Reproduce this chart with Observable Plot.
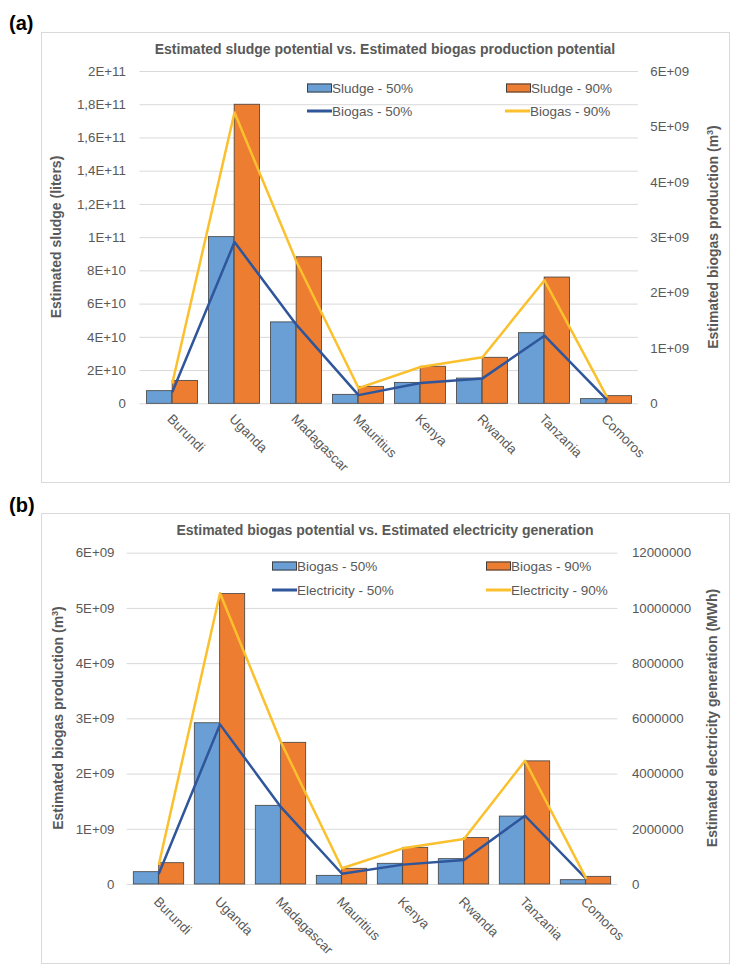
<!DOCTYPE html>
<html><head><meta charset="utf-8">
<script src="https://cdn.jsdelivr.net/npm/d3@7"></script>
<script src="https://cdn.jsdelivr.net/npm/@observablehq/plot@0.6"></script>
<style>
body{margin:0;background:#fff;font-family:"Liberation Sans",Arial,sans-serif;}
#root{position:relative;width:731px;height:968px;overflow:hidden;background:#fff;}
.box{position:absolute;border:1px solid #d9d9d9;box-sizing:border-box;}
.plabel{position:absolute;font-weight:bold;font-size:20px;color:#000;transform:translateY(-50%);}
.title{position:absolute;font-weight:bold;font-size:14px;color:#595959;transform:translate(-50%,-50%);white-space:nowrap;}
.ytitle{position:absolute;font-weight:bold;font-size:14px;color:#595959;transform:translate(-50%,-50%) rotate(-90deg);white-space:nowrap;}
.leg{position:absolute;font-size:13.5px;color:#595959;white-space:nowrap;transform:translateY(-50%);display:flex;align-items:center;}
.sw{display:inline-block;width:25px;height:9px;border:1px solid #404040;box-sizing:border-box;margin-right:0px;}
.ln{display:inline-block;width:25px;height:3px;margin-right:0px;}
.pl{position:absolute;left:0;}
</style>
</head><body><div id="root"></div>
<script>
const countries = ["Burundi","Uganda","Madagascar","Mauritius","Kenya","Rwanda","Tanzania","Comoros"];
const sludge50 = [7.6e9, 1.003e11, 4.9e10, 5.4e9, 1.26e10, 1.52e10, 4.25e10, 2.8e9];
const sludge90 = [1.38e10, 1.80e11, 8.82e10, 1.02e10, 2.23e10, 2.77e10, 7.6e10, 4.6e9];
const biogas50 = [2.23e8, 2.92e9, 1.425e9, 1.57e8, 3.75e8, 4.59e8, 1.23e9, 7.8e7];
const biogas90 = [3.86e8, 5.26e9, 2.566e9, 2.84e8, 6.64e8, 8.4e8, 2.23e9, 1.39e8];
const elec50 = [0.41e6, 5.8e6, 2.8e6, 0.39e6, 0.72e6, 0.89e6, 2.49e6, 0.21e6];
const elec90 = [0.75e6, 10.55e6, 5.15e6, 0.59e6, 1.31e6, 1.65e6, 4.48e6, 0.23e6];

const sludgeTicks = [0, 2e10, 4e10, 6e10, 8e10, 1e11, 1.2e11, 1.4e11, 1.6e11, 1.8e11, 2e11];
const sludgeTickLabels = ["0","2E+10","4E+10","6E+10","8E+10","1E+11","1,2E+11","1,4E+11","1,6E+11","1,8E+11","2E+11"];
const biogasTicks = [0, 1e9, 2e9, 3e9, 4e9, 5e9, 6e9];
const biogasTickLabels = ["0","1E+09","2E+09","3E+09","4E+09","5E+09","6E+09"];
const elecTicks = [0, 2e6, 4e6, 6e6, 8e6, 10e6, 12e6];
const elecTickLabels = ["0","2000000","4000000","6000000","8000000","10000000","12000000"];

const BLUE = "#6a9fd6", ORANGE = "#ed7d31", LBLUE = "#2f559b", LYELLOW = "#fbc02d";
const FONT = '"Liberation Sans", Arial, sans-serif';
const root = document.getElementById("root");

function el(cls, css, html) {
  const d = document.createElement("div");
  d.className = cls;
  Object.assign(d.style, css);
  if (html !== undefined) d.innerHTML = html;
  root.appendChild(d);
  return d;
}

function panel(cfg) {
  const rows = countries.map((c, i) => ({country: c, a: cfg.barA[i], b: cfg.barB[i], la: cfg.lineA[i], lb: cfg.lineB[i]}));
  const ratio = cfg.yMax / cfg.rMax;
  const bw = (731 - cfg.mL - cfg.mR) / countries.length;
  const half = bw / 2;
  const gap = cfg.gap;
  const lmap = new Map(cfg.yTicks.map((t, i) => [t, cfg.yLabels[i]]));
  const rTicksScaled = cfg.rTicks.map(t => t * ratio);
  const rmap = new Map(rTicksScaled.map((t, i) => [t, cfg.rLabels[i]]));
  const svg = Plot.plot({
    width: 731, height: cfg.height,
    marginTop: cfg.mT, marginBottom: cfg.mB, marginLeft: cfg.mL, marginRight: cfg.mR,
    style: {fontFamily: FONT, fontSize: "13.3px", color: "#595959", background: "transparent", overflow: "visible"},
    x: {type: "band", domain: countries, padding: 0, label: null},
    y: {domain: [0, cfg.yMax], label: null},
    marks: [
      Plot.gridY(cfg.yTicks, {stroke: "#d9d9d9", strokeOpacity: 1, strokeWidth: 1}),
      Plot.barY(rows, {x: "country", y: "a", fill: BLUE, stroke: "#404040", strokeWidth: 0.8, insetLeft: gap, insetRight: half}),
      Plot.barY(rows, {x: "country", y: "b", fill: ORANGE, stroke: "#404040", strokeWidth: 0.8, insetLeft: half, insetRight: gap}),
      Plot.lineY(rows, {x: "country", y: d => d.la * ratio, stroke: LBLUE, strokeWidth: 2.5}),
      Plot.lineY(rows, {x: "country", y: d => d.lb * ratio, stroke: LYELLOW, strokeWidth: 2.5}),
      Plot.axisY({anchor: "left", ticks: cfg.yTicks, tickFormat: d => lmap.get(d), tickSize: 0, tickPadding: cfg.lPad, label: null, fontSize: 13.3}),
      Plot.axisY({anchor: "right", ticks: rTicksScaled, tickFormat: d => rmap.get(d), tickSize: 0, tickPadding: cfg.rPad, label: null, fontSize: 13.3}),
      Plot.axisX({tickRotate: 45, tickSize: 0, tickPadding: cfg.xPad, dx: -3, label: null, fontSize: 13.5})
    ]
  });
  const wrap = el("pl", {top: cfg.top + "px", width: "731px", height: cfg.height + "px"});
  wrap.appendChild(svg);
}

// Panel (a)
el("box", {left: "41px", top: "32px", width: "689px", height: "451px"});
el("plabel", {left: "9px", top: "23px"}, "(a)");
el("title", {left: "385px", top: "49px"}, "Estimated sludge potential vs. Estimated biogas production potential");
panel({top: 32, height: 451, mT: 39, mB: 79.7, mL: 139.4, mR: 93.2, gap: 5.5,
  yMax: 2e11, yTicks: sludgeTicks, yLabels: sludgeTickLabels,
  rMax: 6e9, rTicks: biogasTicks, rLabels: biogasTickLabels,
  barA: sludge50, barB: sludge90, lineA: biogas50, lineB: biogas90, lPad: 14, rPad: 12, xPad: 13});
el("ytitle", {left: "56px", top: "237px"}, "Estimated sludge (liters)");
el("ytitle", {left: "713px", top: "237px"}, "Estimated biogas production (m<sup style='font-size:9px'>3</sup>)");
el("leg", {left: "307px", top: "88px"}, `<span class="sw" style="background:${BLUE}"></span>Sludge - 50%`);
el("leg", {left: "506px", top: "88px"}, `<span class="sw" style="background:${ORANGE}"></span>Sludge - 90%`);
el("leg", {left: "307px", top: "111px"}, `<span class="ln" style="background:${LBLUE}"></span>Biogas - 50%`);
el("leg", {left: "505px", top: "111px"}, `<span class="ln" style="background:${LYELLOW}"></span>Biogas - 90%`);

// Panel (b)
el("box", {left: "41px", top: "513px", width: "689px", height: "451px"});
el("plabel", {left: "9px", top: "505px"}, "(b)");
el("title", {left: "385px", top: "530px"}, "Estimated biogas potential vs. Estimated electricity generation");
panel({top: 513, height: 450, mT: 39.7, mB: 79, mL: 126.6, mR: 113.6, gap: 5.3,
  yMax: 6e9, yTicks: biogasTicks, yLabels: biogasTickLabels,
  rMax: 12e6, rTicks: elecTicks, rLabels: elecTickLabels,
  barA: biogas50, barB: biogas90, lineA: elec50, lineB: elec90, lPad: 12.6, rPad: 14, xPad: 15});
el("ytitle", {left: "58px", top: "718px"}, "Estimated biogas production (m<sup style='font-size:9px'>3</sup>)");
el("ytitle", {left: "712px", top: "718px"}, "Estimated electricity generation (MWh)");
el("leg", {left: "272px", top: "566px"}, `<span class="sw" style="background:${BLUE}"></span>Biogas - 50%`);
el("leg", {left: "486px", top: "566px"}, `<span class="sw" style="background:${ORANGE}"></span>Biogas - 90%`);
el("leg", {left: "272px", top: "590px"}, `<span class="ln" style="background:${LBLUE}"></span>Electricity - 50%`);
el("leg", {left: "486px", top: "590px"}, `<span class="ln" style="background:${LYELLOW}"></span>Electricity - 90%`);
</script>
</body></html>
